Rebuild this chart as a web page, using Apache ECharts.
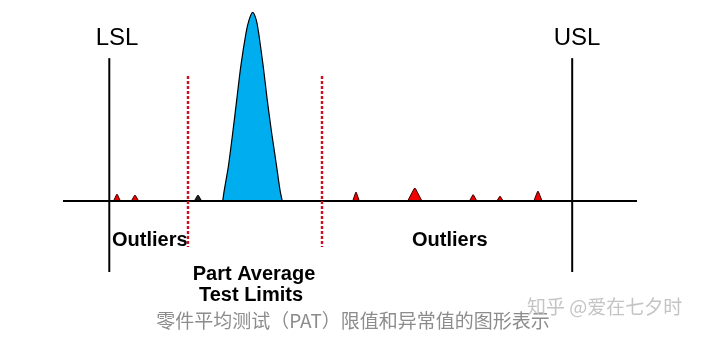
<!DOCTYPE html>
<html><head><meta charset="utf-8">
<script src="https://cdn.jsdelivr.net/npm/echarts@6/dist/echarts.min.js"></script>
<style>html,body{margin:0;padding:0;background:#fff}#c{width:720px;height:339px}</style>
</head><body><div id="c"></div>
<script>
// Distribution of the main population (measurement units, LSL = 0, USL = 100)
const peakX = [24.5, 24.84, 25.71, 26.66, 27.52, 28.39, 29.53, 30.18, 30.98, 31.76, 32.27, 33.27, 34.13, 35.08, 36.16, 36.88, 37.37];
const peakY = [0, 5.8, 18.1, 36.0, 53.4, 71.0, 88.8, 95.7, 99.8, 95.7, 88.8, 71.0, 53.4, 36.0, 18.1, 5.8, 0];
// Outlier bumps: centre, height, half-width
const outlierX = [1.66, 5.55, 19.16, 53.3, 66.0, 78.6, 84.4, 92.6];
const outlierH = [3.7, 3.2, 3.2, 4.8, 6.9, 3.4, 2.6, 5.3];
const outlierW = [0.75, 0.8, 0.8, 0.72, 1.55, 0.8, 0.7, 0.9];
const outlierDark = [false, false, true, false, false, false, false, false];
// Specification limits
const specNames = ['LSL', 'USL'];
const specX = [0, 100];
const specTop = [75.6, 75.6];
const specBottom = [-37.5, -37.5];
// Part Average Test limits
const patX = [17.0, 45.95];
const patTop = [66.1, 66.1];
const patBottom = [-24.3, -24.3];
// Baseline extent
const baseX = [-10, 114];

const chart = echarts.init(document.getElementById('c'), null, {renderer: 'canvas'});

const vline = (dash, color, width) => function (params, api) {
  const p1 = api.coord([api.value(0), api.value(1)]);
  const p2 = api.coord([api.value(0), api.value(2)]);
  return {type: 'line', shape: {x1: p1[0], y1: p1[1], x2: p2[0], y2: p2[1]},
    style: {stroke: color, lineWidth: width, lineDash: dash}};
};

const latin = '"Liberation Sans", Arial, Helvetica, sans-serif';
const cjk = '"Noto Sans CJK SC", "Noto Sans", sans-serif';

chart.setOption({
  animation: false,
  backgroundColor: '#fff',
  grid: {left: 63, right: 83, top: 12, bottom: 67},
  xAxis: {type: 'value', min: -10, max: 114, show: false},
  yAxis: {type: 'value', min: -37.5, max: 100, show: false},
  series: [
    {
      type: 'line', name: 'peak', symbol: 'none', smooth: 0.25, z: 2,
      data: peakX.map((x, i) => [x, peakY[i]]),
      lineStyle: {color: '#000', width: 1.2},
      areaStyle: {color: '#00aeef', opacity: 1}
    },
    {
      type: 'custom', name: 'outliers', z: 3,
      data: outlierX.map((x, i) => [x, outlierH[i], outlierW[i], outlierDark[i] ? 1 : 0]),
      renderItem(params, api) {
        const cx = api.value(0), h = api.value(1), w = api.value(2), dark = api.value(3);
        const pts = [
          [cx - w, 0], [cx - w * 0.12, h * 0.93], [cx, h],
          [cx + w * 0.12, h * 0.93], [cx + w, 0]
        ].map(p => api.coord(p));
        return {type: 'polygon', shape: {points: pts},
          style: {fill: dark ? '#222' : '#f00000', stroke: dark ? '#000' : '#3a0000', lineWidth: 1}};
      }
    },
    {
      type: 'line', name: 'baseline', symbol: 'none', z: 4,
      data: baseX.map(x => [x, 0]),
      lineStyle: {color: '#000', width: 2}
    },
    {
      type: 'custom', name: 'spec', z: 5,
      data: specX.map((x, i) => [x, specTop[i], specBottom[i]]),
      renderItem: vline(null, '#000', 2)
    },
    {
      type: 'custom', name: 'pat', z: 5,
      data: patX.map((x, i) => [x, patTop[i], patBottom[i]]),
      renderItem: vline([3, 2], '#d01020', 2.4)
    }
  ],
  graphic: [
    {type: 'text', x: 117, y: 38, style: {text: specNames[0], font: '24px ' + latin, fill: '#000', textAlign: 'center', textVerticalAlign: 'middle'}},
    {type: 'text', x: 577, y: 38, style: {text: specNames[1], font: '24px ' + latin, fill: '#000', textAlign: 'center', textVerticalAlign: 'middle'}},
    {type: 'text', x: 112, y: 240, style: {text: 'Outliers', font: 'bold 20px ' + latin, fill: '#000', textAlign: 'left', textVerticalAlign: 'middle'}},
    {type: 'text', x: 412, y: 240, style: {text: 'Outliers', font: 'bold 20px ' + latin, fill: '#000', textAlign: 'left', textVerticalAlign: 'middle'}},
    {type: 'text', x: 254, y: 274, style: {text: 'Part Average', font: 'bold 20px ' + latin, fill: '#000', textAlign: 'center', textVerticalAlign: 'middle'}},
    {type: 'text', x: 251, y: 295, style: {text: 'Test Limits', font: 'bold 20px ' + latin, fill: '#000', textAlign: 'center', textVerticalAlign: 'middle'}},
    {type: 'text', x: 353, y: 321, style: {text: '零件平均测试（PAT）限值和异常值的图形表示', font: '19px ' + cjk, fill: '#8c8c8c', textAlign: 'center', textVerticalAlign: 'middle'}},
    {type: 'text', x: 527, y: 307, style: {text: '知乎 @爱在七夕时', font: '19px ' + cjk, fill: '#c4c4c4', textAlign: 'left', textVerticalAlign: 'middle'}}
  ]
});
</script>
</body></html>
